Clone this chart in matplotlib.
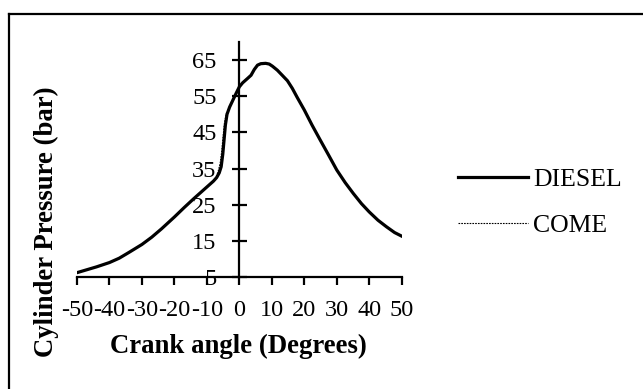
import matplotlib
matplotlib.use("Agg")
import matplotlib.pyplot as plt
from matplotlib.lines import Line2D

plt.rcParams['font.family'] = ['Liberation Serif', 'DejaVu Serif']
plt.rcParams['axes.unicode_minus'] = False

# Crank angle (deg) and cylinder pressure (bar)
diesel_angle = [-50, -47, -44, -40, -37, -34, -30, -27, -24, -20, -17, -14, -12, -10, -8, -7,
                -6.2, -5.6, -5.1, -4.7, -4.3, -3.8, -3, -2, -1, 0, 1, 2.5, 3.6, 4.6, 5.6, 6.6,
                8.1, 9.2, 10.2, 11.7, 13.2, 14.8, 16.3, 17.8, 20, 22.4, 24.9, 27.5, 30, 32.6,
                35.1, 37.6, 40, 42.7, 45.3, 47.8, 50]
diesel_p = [6.2, 7.0, 7.8, 9.0, 10.2, 11.8, 14.0, 16.0, 18.3, 21.6, 24.2, 26.7, 28.3, 29.9, 31.5, 32.5,
            33.8, 35.5, 39.0, 43.0, 47.0, 50.0, 52.0, 53.9, 55.8, 57.6, 58.7, 59.9, 60.8, 62.4, 63.6, 64.0,
            64.1, 63.9, 63.3, 62.2, 60.8, 59.3, 57.2, 54.7, 51.2, 47.0, 42.9, 38.7, 34.6, 31.1,
            28.1, 25.3, 23.0, 20.7, 18.9, 17.3, 16.3]

come_angle = [-50, -47, -44, -40, -37, -34, -30, -27, -24, -20, -17, -14, -12, -10, -8, -7.2,
              -6.5, -5.9, -5.4, -5.0, -4.6, -4.0, -3, -2, -1, 0, 1, 2.5, 3.6, 4.6, 5.6, 6.6,
              8.1, 9.2, 10.2, 11.7, 13.2, 14.8, 16.3, 17.8, 20, 22.4, 24.9, 27.5, 30, 32.6,
              35.1, 37.6, 40, 42.7, 45.3, 47.8, 50]
come_p = [6.2, 7.0, 7.8, 9.0, 10.2, 11.8, 14.0, 16.0, 18.3, 21.6, 24.2, 26.7, 28.3, 29.9, 31.5, 32.6,
          34.3, 36.5, 40.0, 44.0, 47.5, 50.3, 52.0, 53.9, 55.8, 57.6, 58.7, 59.9, 60.8, 62.4, 63.6, 64.0,
          64.1, 63.9, 63.3, 62.2, 60.8, 59.3, 57.2, 54.7, 51.2, 47.0, 42.9, 38.7, 34.6, 31.1,
          28.1, 25.3, 23.0, 20.7, 18.9, 17.3, 16.3]

xticks = list(range(-50, 51, 10))
yticks = list(range(5, 66, 10))

W, H = 643, 389
fig = plt.figure(figsize=(W / 100, H / 100), dpi=100)
ax = fig.add_axes([77 / W, 1 - 277 / H, 324.7 / W, 235 / H])

l_come, = ax.plot(come_angle, come_p, color="black", lw=0.8, ls=(0, (1.5, 1)), label="COME")
l_dsl, = ax.plot(diesel_angle, diesel_p, color="black", lw=2.3, label="DIESEL",
                 solid_joinstyle="round")

ax.set_xlim(-50, 50)
ax.set_ylim(5, 70)
ax.set_xticks(xticks)
ax.set_yticks(yticks)

ax.spines['left'].set_position(('data', 0))
ax.spines['top'].set_visible(False)
ax.spines['right'].set_visible(False)
for s in ('left', 'bottom'):
    ax.spines[s].set_linewidth(1.6)

ax.tick_params(axis='x', direction='out', length=5.8, width=1.6, labelsize=17.5, pad=10.5)
ax.tick_params(axis='y', direction='inout', length=10.8, width=1.6, labelsize=17.5, pad=11)

# axis titles
fig.text(238.5 / W, 1 - 346.7 / H, "Crank angle (Degrees)", ha="center", va="center",
         fontsize=19.3, fontweight="bold")
fig.text(46 / W, 1 - 221.5 / H, "Cylinder Pressure (bar)", ha="center", va="center",
         rotation=90, fontsize=19.3, fontweight="bold")

ax.legend(handles=[l_dsl, l_come], loc="center left", bbox_to_anchor=(458 / W, 1 - 202.5 / H),
          bbox_transform=fig.transFigure, frameon=False, fontsize=18.5,
          handlelength=2.72, handletextpad=0.2, labelspacing=0.9,
          borderpad=0, borderaxespad=0)

# outer chart border
lw_b = 1.6
fig.add_artist(Line2D([8.5 / W, 8.5 / W], [0, 1 - 13.5 / H], color="black", lw=lw_b))
fig.add_artist(Line2D([8.5 / W, 1], [1 - 13.5 / H, 1 - 13.5 / H], color="black", lw=lw_b))

fig.savefig("out.png", dpi=100)
